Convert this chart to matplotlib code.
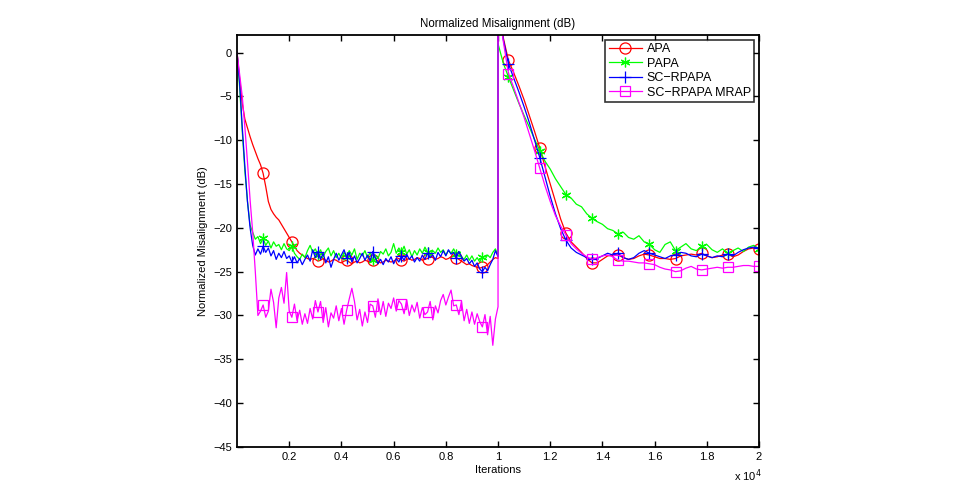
import numpy as np
import matplotlib
matplotlib.use("Agg")
import matplotlib.pyplot as plt

plt.rcParams['font.family'] = ['Liberation Sans', 'DejaVu Sans']

# iteration grid: fine before the echo-path change, coarser after it
iters_a = list(range(0, 10001, 100))
iters_b = [10000] + list(range(10200, 20001, 200))
iters = np.array(iters_a + iters_b)

# marker positions (iterations)
marker_iters = [1050, 2100, 3150, 4200, 5250, 6300, 7350, 8400, 9450, 10500,
                11550, 12600, 13650, 14700, 15750, 16800, 17850, 18900, 19950]

apa_a = [0, -3, -5.8, -7.6, -8.6, -9.6, -10.5, -11.3, -12.1, -12.8,
         -13.8, -15.3, -17, -17.9, -18.4, -18.8, -19.1, -19.6, -20.1, -20.6,
         -21.1, -21.6, -22.1, -22.6, -22.9, -23.1, -23.3, -23.5, -23.6, -23.5,
         -23.6, -23.8, -23.7, -23.5, -23.7, -23.9, -23.8, -23.6, -23.7, -23.9,
         -24, -23.8, -23.7, -23.9, -24.1, -23.9, -23.8, -24, -23.9, -23.7,
         -23.8, -23.9, -23.7, -23.6, -23.8, -24, -23.9, -23.7, -23.8, -23.9,
         -23.8, -23.6, -23.5, -23.7, -23.8, -23.6, -23.5, -23.7, -23.6, -23.4,
         -23.5, -23.7, -23.6, -23.5, -23.3, -23.4, -23.6, -23.5, -23.3, -23.4,
         -23.6, -23.5, -23.3, -23.2, -23.4, -23.6, -23.8, -24, -24.2, -24.1,
         -24.3, -24.4, -24.5, -24.6, -24.5, -24.4, -24.2, -23.9, -23.6, -23.4,
         -23.5]
apa_b = [6, 1.7, -0.9, -2.3, -3.8, -5.4, -7.2, -9, -10.9, -13,
         -15, -17, -19, -20.6, -21.6, -22.2, -22.8, -23.5, -24, -24,
         -23.6, -23.2, -23.1, -23.1, -23.4, -23.6, -23.5, -23.2, -23, -23.1,
         -23.3, -23.5, -23.5, -23.6, -23.5, -23.2, -23.1, -23, -23.1, -22.9,
         -23.2, -23.4, -23.3, -23.1, -23, -23.3, -23.1, -22.7, -22.4, -22.3,
         -22.4]

papa_a = [0, -4, -9, -13.5, -17, -19.7, -20.5, -21.3, -21, -21.8,
          -21.2, -22, -21.5, -22.3, -21.6, -22.1, -21.9, -22.5, -21.8, -22.4,
          -22.6, -22.1, -22.9, -23.3, -23.6, -23, -23.4, -22.6, -22, -22.8,
          -22.4, -23.1, -22.5, -23.3, -22.7, -22.3, -23.2, -22.6, -23.4, -22.9,
          -23.5, -22.8, -23.3, -22.6, -23.1, -22.4, -23.6, -22.9, -23.2, -22.6,
          -23.4, -22.8, -23.7, -23.1, -23.5, -22.7, -23, -22.4, -23.2, -22.8,
          -21.8, -22.9, -22.3, -22.8, -22.1, -23, -22.5, -23.3, -22.6, -23.1,
          -22.4, -22.9, -22.2, -22.8, -23.2, -22.6, -22.9, -22.3, -22.8, -22.5,
          -23.1, -22.6, -22.9, -22.4, -23, -22.7, -23.3, -23.6, -23.1, -23.7,
          -23.2, -23.8, -23.4, -23.9, -23.3, -23.6, -23.1, -23.4, -22.8, -22.4,
          -23.2]
papa_b = [1.0, -1.2, -2.8, -4.3, -5.8, -7.2, -8.5, -9.9, -11.2, -12.4,
          -13.3, -14.4, -15.3, -16.2, -16.6, -17.3, -17.6, -18.4, -18.9, -19.3,
          -19.6, -20.1, -20.3, -20.7, -20.5, -21.1, -21.3, -20.9, -21.6, -21.9,
          -22.5, -22.8, -21.9, -21.6, -22.6, -22.2, -21.8, -22.4, -22.6, -22.1,
          -21.9, -22.5, -22.8, -22.4, -22.9, -22.6, -22.3, -22.7, -22.2, -22.0,
          -22.4]

scr_a = [0, -3.5, -8.5, -13, -17, -20, -22, -23.1, -22.4, -23,
         -22.1, -22.8, -22.3, -23.2, -22.6, -23.6, -22.9, -23.4, -22.7, -23.5,
         -23.2, -23.9, -23.3, -24, -23.5, -24.2, -23.6, -23.1, -23.8, -22.5,
         -23.4, -22.7, -23.6, -22.9, -24, -23.3, -24.5, -23.6, -22.9, -23.7,
         -23.1, -22.5, -23.4, -22.8, -23.9, -23.2, -24, -23.5, -22.9, -23.7,
         -23.1, -23.8, -22.7, -23.4, -24.1, -23.6, -24.2, -23.5, -23.9, -23.3,
         -24.1, -23.5, -23.9, -23.2, -23.7, -23, -23.6, -23.2, -23.9, -23.4,
         -23.8, -23.1, -23.6, -22.9, -23.4, -23.1, -23.7, -22.8, -23.3, -22.6,
         -23.2, -22.5, -23, -22.8, -23.4, -22.7, -23.3, -23.8, -23.5, -24.1,
         -23.7, -24.4, -24, -24.7, -25, -24.5, -24.9, -24.2, -23.6, -22.6,
         -23.3]
scr_b = [6, 1.5, -1.3, -2.9, -4.5, -6.2, -8, -10, -12, -14.2,
         -16.4, -18.4, -20.1, -21.4, -22.3, -22.8, -23.1, -23.4, -23.6, -23.5,
         -23.2, -22.9, -23.1, -22.9, -23.4, -23.6, -23.4, -22.9, -22.6, -22.9,
         -23.1, -23.3, -23.5, -23.2, -23.1, -22.8, -22.9, -23.2, -23.3, -23,
         -23.2, -23.4, -23.2, -23.3, -23, -23.2, -22.8, -22.5, -22.3, -22.2,
         -22.3]

mrap_a = [0, -2.5, -5, -8.5, -12.5, -16.8, -20.5, -25, -30, -29.5,
          -28.8, -30.2, -29.5, -27, -28.5, -31.4, -28, -26.8, -28.6, -25.1,
          -29.5, -30.2, -28.7, -30.6, -29.4, -31, -29.8, -30.9, -29.2, -30.4,
          -28.3, -29.6, -28.4, -30.8, -29.1, -31.3, -29.7, -30.3, -28.9, -30.6,
          -29.2, -31, -29.4, -28.1, -26.9, -28.4, -30.5, -29.3, -31.2, -29.6,
          -30.8, -28.7, -28.9, -30.2, -28.1, -29.9, -28.4, -30.1, -28.6, -29.2,
          -28, -29.5, -28.3, -28.7, -29.8, -28.2, -30, -28.8, -29.6, -28.5,
          -30.3, -29.1, -29.9, -29.6, -28.4, -30.5, -28.9, -29.7, -28.3, -27.6,
          -28.8, -27.9, -27.1, -28.9, -28.8, -29.9, -28.4, -30.6, -29.3, -30.9,
          -29.6, -31, -29.8, -30.7, -31.3, -29.9, -32.2, -30.1, -33.4, -30.4,
          -29]
mrap_b = [6, 1.3, -2.4, -4, -5.7, -7.4, -9.3, -11.2, -13.2, -15.2,
          -17, -18.6, -19.8, -20.8, -21.8, -22.4, -22.9, -23.3, -23.6, -23.4,
          -23.2, -23.1, -23.3, -23.7, -23.8, -23.8, -23.9, -24, -24, -24.1,
          -24.2, -24.5, -24.7, -24.8, -25, -24.9, -24.6, -24.4, -24.7, -24.8,
          -24.7, -24.6, -24.5, -24.6, -24.5, -24.5, -24.4, -24.3, -24.3, -24.4,
          -24.4]

labels = ['APA', 'PAPA', 'SC\u2212RPAPA', 'SC\u2212RPAPA MRAP']
series = [apa_a + apa_b, papa_a + papa_b, scr_a + scr_b, mrap_a + mrap_b]
colors = ['#ff0000', '#00ff00', '#0000ff', '#ff00ff']
markers = ['o', (6, 2, 0), '+', 's']
msizes = [8, 7, 8, 7]

# nearest grid index for each marker iteration (after the jump for the second half)
mark_idx = []
for m in marker_iters:
    if m <= 10000:
        mark_idx.append(int(np.argmin(np.abs(np.array(iters_a) - m))))
    else:
        mark_idx.append(len(iters_a) + int(np.argmin(np.abs(np.array(iters_b) - m))))

fig = plt.figure(figsize=(9.62, 4.9), dpi=100)
ax = fig.add_axes([0.2464, 0.0878, 0.5426, 0.8408])

for y, lab, c, mk, ms in zip(series, labels, colors, markers, msizes):
    ax.plot(iters, y, color=c, lw=0.9, marker=mk, markersize=ms,
            markerfacecolor='none', markeredgecolor=c, markeredgewidth=0.9,
            markevery=mark_idx, label=lab)

ax.set_xlim(0, 20000)
ax.set_ylim(-45, 2)
ax.set_xticks(np.arange(2000, 20001, 2000))
ax.set_xticklabels(['0.2', '0.4', '0.6', '0.8', '1', '1.2', '1.4', '1.6', '1.8', '2'])
ax.set_yticks(np.arange(-45, 1, 5))
ax.tick_params(direction='in', top=True, right=True, length=4, width=1, labelsize=8)
for s in ax.spines.values():
    s.set_linewidth(1.3)

ax.set_title('Normalized Misalignment (dB)', fontsize=8.3, pad=6)
ax.set_xlabel('Iterations', fontsize=8, labelpad=2)
ax.set_ylabel('Normalized Misalignment (dB)', fontsize=8, labelpad=4)
ax.text(1.006, -0.0825, 'x 10$^{4}$', transform=ax.transAxes, fontsize=8,
        ha='right', va='baseline')

leg = ax.legend(loc='upper right', fontsize=9, handlelength=2.7, frameon=True,
                fancybox=False, borderaxespad=0.4, borderpad=0.25,
                labelspacing=0.2, handletextpad=0.35)
leg.get_frame().set_edgecolor('black')
leg.get_frame().set_linewidth(1.2)

fig.savefig('out.png', dpi=100)
